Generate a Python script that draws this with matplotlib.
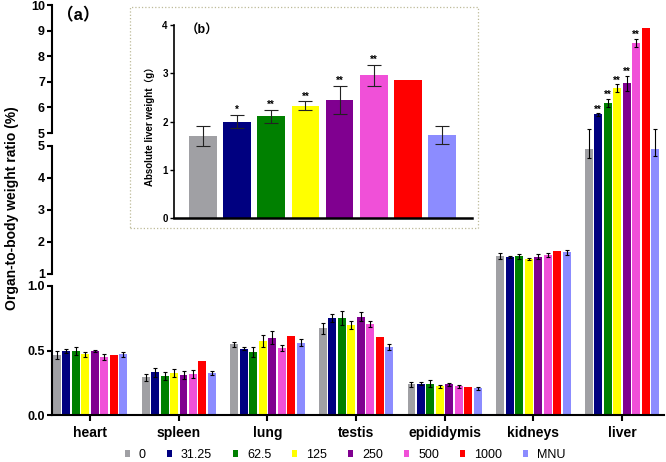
import numpy as np
import matplotlib
matplotlib.use('Agg')
import matplotlib.pyplot as plt
from matplotlib.patches import Rectangle, Patch
from matplotlib.ticker import FixedLocator, FixedFormatter, NullLocator

organs = ['heart', 'spleen', 'lung', 'testis', 'epididymis', 'kidneys', 'liver']
doses = ['0', '31.25', '62.5', '125', '250', '500', '1000', 'MNU']
colors = ['#A0A0A4', '#000080', '#008000', '#FFFF00', '#800090', '#F050D8', '#FF0000', '#8C8CFF']

# organ-to-body weight ratio (%), one list per organ, one value per dose group
heart = [0.465, 0.496, 0.496, 0.470, 0.496, 0.447, 0.463, 0.470]
spleen = [0.292, 0.331, 0.305, 0.323, 0.312, 0.320, 0.416, 0.326]
lung = [0.548, 0.514, 0.486, 0.574, 0.600, 0.519, 0.612, 0.560]
testis = [0.672, 0.752, 0.752, 0.698, 0.762, 0.703, 0.602, 0.527]
epididymis = [0.238, 0.243, 0.243, 0.222, 0.238, 0.222, 0.215, 0.207]
kidneys = [1.57, 1.53, 1.55, 1.46, 1.54, 1.60, 1.72, 1.68]
liver = [4.90, 5.73, 6.18, 6.75, 6.94, 8.53, 9.09, 4.92]

# error bars (1000 group has none)
heart_sd = [0.03, 0.016, 0.03, 0.022, 0.01, 0.023, np.nan, 0.017]
spleen_sd = [0.026, 0.034, 0.03, 0.032, 0.032, 0.031, np.nan, 0.015]
lung_sd = [0.02, 0.013, 0.039, 0.045, 0.05, 0.02, np.nan, 0.028]
testis_sd = [0.041, 0.028, 0.057, 0.03, 0.036, 0.022, np.nan, 0.02]
epididymis_sd = [0.019, 0.01, 0.026, 0.013, 0.01, 0.01, np.nan, 0.013]
kidneys_sd = [0.1, 0.03, 0.07, 0.03, 0.07, 0.07, np.nan, 0.08]
liver_sd = [0.26, 0.05, 0.15, 0.15, 0.3, 0.16, np.nan, 0.22]
liver_stars = ['', '**', '**', '**', '**', '**', '', '']

# inset: absolute liver weight (g)
liver_abs = [1.70, 2.00, 2.11, 2.33, 2.45, 2.96, 2.87, 1.73]
liver_abs_sd = [0.21, 0.14, 0.13, 0.09, 0.29, 0.22, np.nan, 0.19]
liver_abs_stars = ['', '*', '**', '**', '**', '**', '', '']

ytick_vals = [0, 0.5, 1.0, np.nextafter(1, 2), 2, 3, 4, 5, np.nextafter(5, 6), 6, 7, 8, 9, 10]
ytick_labels = ['0.0', '0.5', '1.0', '1', '2', '3', '4', '5', '5', '6', '7', '8', '9', '10']

plt.rcParams['font.family'] = ['Liberation Sans', 'Noto Sans CJK SC', 'DejaVu Sans']


# broken y axis: 0-1, 1-5 and 5-10 get equal heights with a small gap between
def fwd(v):
    v = np.asarray(v, dtype=float)
    return np.where(v <= 1, v * 129,
                    np.where(v <= 5, 141 + (v - 1) * 32, 282 + (v - 5) * 25.6))


def inv(y):
    y = np.asarray(y, dtype=float)
    return np.where(y <= 129, y / 129,
           np.where(y < 141, 1.0,
           np.where(y <= 269, 1 + (y - 141) / 32,
           np.where(y < 282, 5.0, 5 + (y - 282) / 25.6))))


W, H = 666, 462
fig = plt.figure(figsize=(W / 100, H / 100), dpi=100)
ax = fig.add_axes([52 / W, 47 / H, (664 - 52) / W, 410 / H])
ax.set_yscale('function', functions=(fwd, inv))

ratio = np.array([heart, spleen, lung, testis, epididymis, kidneys, liver])
ratio_sd = np.array([heart_sd, spleen_sd, lung_sd, testis_sd, epididymis_sd, kidneys_sd, liver_sd])

x = np.arange(len(organs))
step = 0.107
for j, c in enumerate(colors):
    xs = x + (j - 3.5) * step
    ax.bar(xs, ratio[:, j], 0.09, color=c, yerr=ratio_sd[:, j],
           error_kw=dict(ecolor='black', elinewidth=0.8, capsize=1.6, capthick=0.8))
    if liver_stars[j]:
        top = ratio[-1, j] + np.nan_to_num(ratio_sd[-1, j])
        ax.annotate(liver_stars[j], (xs[-1], top), xytext=(0, -1), textcoords='offset points',
                    ha='center', va='bottom', fontsize=7, fontweight='bold')

ax.set_xlim(-0.43, 6.474)
ax.set_ylim(0, 10)
ax.yaxis.set_major_locator(FixedLocator(ytick_vals))
ax.yaxis.set_major_formatter(FixedFormatter(ytick_labels))
ax.yaxis.set_minor_locator(NullLocator())
ax.set_xticks(x)
ax.set_xticklabels(organs, fontsize=10, fontweight='bold')
ax.tick_params(axis='y', direction='out', length=3.6, width=1.5, labelsize=9, pad=1.5)
ax.tick_params(axis='x', direction='out', length=4, width=1.5, pad=4)
for lab in ax.get_yticklabels():
    lab.set_fontweight('bold')

for s in ['top', 'right', 'left']:
    ax.spines[s].set_visible(False)
ax.spines['bottom'].set_linewidth(1.5)
# three pieces of the left spine
for lo, hi in [(0, 1), (np.nextafter(1, 2), 5), (np.nextafter(5, 6), 10)]:
    ax.plot([0, 0], [lo, hi], color='black', lw=1.5, transform=ax.get_yaxis_transform(),
            clip_on=False, solid_capstyle='projecting')

fig.text(12 / W, 1 - 208 / H, 'Organ-to-body weight ratio (%)', rotation=90,
         ha='center', va='center', fontsize=10, fontweight='bold')
fig.text(78 / W, 1 - 15 / H, '（a）', ha='center', va='center', fontsize=12, fontweight='bold')

handles = [Patch(facecolor=c, edgecolor='none') for c in colors]
fig.legend(handles, doses, loc='center', bbox_to_anchor=(345 / W, 1 - 455 / H), ncol=8,
           frameon=False, fontsize=9, handlelength=0.4, handleheight=0.4,
           handletextpad=0.75, columnspacing=1.65, borderpad=0)

# inset (b)
fig.patches.append(Rectangle((130 / W, 1 - 228 / H), 348 / W, 221 / H, transform=fig.transFigure,
                             fill=False, linestyle=':', edgecolor='#BDBA98', linewidth=0.9))
axb = fig.add_axes([174 / W, 1 - 218.3 / H, (472 - 174) / W, (218.3 - 25) / H])
xb = np.arange(len(doses))
axb.bar(xb, liver_abs, 0.81, color=colors, yerr=liver_abs_sd,
        error_kw=dict(ecolor='#222222', elinewidth=0.8, capsize=5, capthick=0.8))
for j, st in enumerate(liver_abs_stars):
    if st:
        axb.annotate(st, (xb[j], liver_abs[j] + liver_abs_sd[j]), xytext=(0, 0),
                     textcoords='offset points', ha='center', va='bottom',
                     fontsize=7, fontweight='bold')
axb.set_xlim(-0.84, 7.87)
axb.set_ylim(0, 4)
axb.set_yticks([0, 1, 2, 3, 4])
axb.set_xticks([])
axb.tick_params(axis='y', direction='out', length=3, width=1, labelsize=7, pad=1.5)
for lab in axb.get_yticklabels():
    lab.set_fontweight('bold')
for s in ['top', 'right']:
    axb.spines[s].set_visible(False)
axb.spines['left'].set_linewidth(1.2)
axb.spines['bottom'].set_linewidth(1.8)
axb.text(0.04, 0.969, '（b）', transform=axb.transAxes, ha='left', va='center',
         fontsize=9, fontweight='bold')
fig.text(150 / W, 1 - 124 / H, 'Absolute liver weight（g）', rotation=90,
         ha='center', va='center', fontsize=7, fontweight='bold')

fig.savefig('out.png', dpi=100)
